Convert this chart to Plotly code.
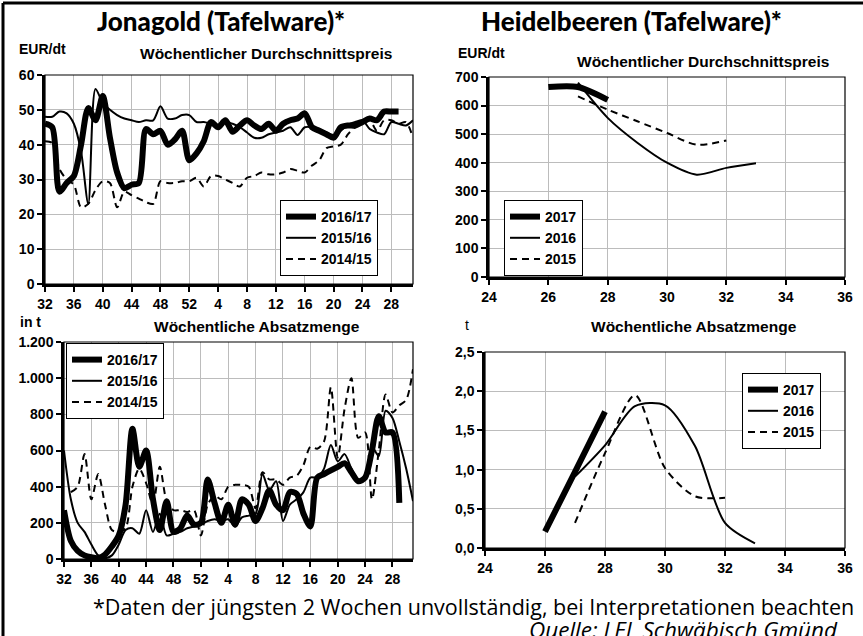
import plotly.graph_objects as go

# ---------------- data ----------------
jg_weeks = [str(w) for w in list(range(32, 53)) + list(range(1, 32))]
jg_ticks = ["32", "36", "40", "44", "48", "52", "4", "8", "12", "16", "20", "24", "28"]

price_1617 = [46, 45, 26.5, 29, 31, 40, 50.5, 47, 54, 42, 32, 27.5, 28.5, 29, 44.5, 43, 44, 40, 41.5, 44,
              35.5, 37.5, 41, 46.5, 45, 47, 43.7, 45.5, 47, 45.5, 44.5, 46, 44, 46, 47, 47.5, 49, 45, 44, 43,
              42, 45, 45.5, 45.5, 46.5, 47.5, 47, 49.5, 49.5, 49.5, None, None]
price_1516 = [48, 48, 49.5, 49, 46, 38, 23, 56, 52, 50, 48.5, 47.5, 47, 46.5, 47, 47, 51, 47.5, 47.5, 48.5,
              48.5, 46.5, 46.5, 46, 45.5, 46.5, 46, 45, 43.5, 42, 42, 43, 43.5, 44, 45, 42.8, 45, 45, 44.5, 43.5,
              42.8, 44, 45.7, 46.5, 47, 44.5, 43.5, 43, 46.5, 46, 45.5, 47]
price_1415 = [41, 40.5, 33, 30, 28.5, 22, 23, 27, 29.5, 29, 22, 26.5, 25.5, 24.5, 23.5, 23, 29.5, 29, 29, 29.5,
              29.5, 30.5, 28, 31, 31, 30, 29, 28, 30.5, 31, 32, 31.5, 31.5, 32, 33, 32.5, 32, 34, 35.5, 39,
              39.5, 40, 43, 45, 46, 47, 44, 47, 47, 46, 46.5, 42]

sales_1617 = [270, 100, 45, 20, 10, 5, 25, 70, 130, 300, 720, 510, 600, 330, 160, 320, 150, 170, 240, 190,
              200, 440, 310, 200, 300, 190, 330, 300, 210, 280, 380, 300, 270, 370, 360, 250, 180, 450, 470, 490,
              510, 530, 480, 430, 450, 600, 790, 700, 700, 310, None, None]
sales_1516 = [600, 330, 200, 150, 80, 20, 5, 20, 80, 160, 170, 140, 270, 150, 250, 130, 140, 150, 170, 180,
              190, 210, 220, 210, 220, 180, 230, 240, 250, 470, 380, 430, 210, 300, 330, 370, 450, 450, 500, 630,
              540, 580, 500, 440, 450, 620, 570, 820, 780, 650, 500, 320]
sales_1415 = [None, 370, 400, 580, 330, 470, 300, 160, 150, 170, 400, 500, 420, 300, 510, 320, 270, 270, 260, 270,
              130, 300, 350, 330, 400, 410, 410, 400, 280, 480, 440, 440, 410, 450, 460, 520, 620, 610, 650, 950,
              560, 830, 1000, 670, 700, 330, 600, 910, 810, 850, 880, 1050]

hb_weeks_2017 = [26, 27, 28]
hb_weeks_2016 = [27, 28, 29, 30, 31, 32, 33]
hb_weeks_2015 = [27, 28, 29, 30, 31, 32]
hb_price_2017 = [665, 665, 620]
hb_price_2016 = [680, 557, 470, 400, 358, 382, 398]
hb_price_2015 = [632, 586, 545, 504, 463, 478]
hb_sales_2017 = [0.21, 0.97, 1.74]
hb_sales_2016 = [0.91, 1.31, 1.81, 1.82, 1.3, 0.32, 0.06]
hb_sales_2015 = [0.32, 1.21, 1.95, 1.02, 0.66, 0.64]

# ---------------- layout helpers ----------------
W, H = 863, 636
def px(x):
    return x / W
def py(y):
    return (H - y) / H

AX = "Liberation Sans"
TXT = "Lato"
FOOT = "Open Sans"

thick = dict(color="black", width=6)
thin = dict(color="black", width=2)
dashed = dict(color="black", width=2, dash="7px,5px")

fig = go.Figure()

def add3(x1, y1, x2, y2, x3, y3, xa, ya, leg, names):
    for (xx, yy, ln, nm) in [(x1, y1, thick, names[0]), (x2, y2, thin, names[1]), (x3, y3, dashed, names[2])]:
        fig.add_trace(go.Scatter(x=xx, y=yy, mode="lines", name=nm, line=dict(shape="spline", smoothing=0.8, **ln),
                                 xaxis=xa, yaxis=ya, legend=leg, connectgaps=False))

add3(jg_weeks, price_1617, jg_weeks, price_1516, jg_weeks, price_1415, "x", "y", "legend",
     ["2016/17", "2015/16", "2014/15"])
add3(hb_weeks_2017, hb_price_2017, hb_weeks_2016, hb_price_2016, hb_weeks_2015, hb_price_2015, "x2", "y2", "legend2",
     ["2017", "2016", "2015"])
add3(jg_weeks, sales_1617, jg_weeks, sales_1516, jg_weeks, sales_1415, "x3", "y3", "legend3",
     ["2016/17", "2015/16", "2014/15"])
add3(hb_weeks_2017, hb_sales_2017, hb_weeks_2016, hb_sales_2016, hb_weeks_2015, hb_sales_2015, "x4", "y4", "legend4",
     ["2017", "2016", "2015"])

tickfont = dict(family=AX, size=14, color="black", weight="bold")
common = dict(showline=True, linecolor="black", linewidth=2.5, mirror=False, ticks="outside", ticklen=5,
              tickwidth=2, tickcolor="black", showgrid=True, gridcolor="#bcbcbc", gridwidth=1,
              tickfont=tickfont, zeroline=False, fixedrange=True, automargin=False)

doms = {
    "1": ([px(45), px(413)], [py(284), py(75)]),
    "2": ([px(489), px(845)], [py(277), py(77)]),
    "3": ([px(64), px(413)], [py(559), py(342)]),
    "4": ([px(485), px(845)], [py(548), py(352)]),
}

lay = dict(
    width=W, height=H, margin=dict(l=0, r=0, t=0, b=0, pad=0, autoexpand=False),
    paper_bgcolor="white", plot_bgcolor="white",
    separators=",.", showlegend=True,
    xaxis=dict(domain=doms["1"][0], anchor="y", type="category", range=[0, 51], tickmode="array",
               tickvals=jg_ticks, **common),
    yaxis=dict(domain=doms["1"][1], anchor="x", range=[0, 60], dtick=10, **common),
    xaxis2=dict(domain=doms["2"][0], anchor="y2", range=[24, 36], dtick=2, **common),
    yaxis2=dict(domain=doms["2"][1], anchor="x2", range=[0, 700], dtick=100, **common),
    xaxis3=dict(domain=doms["3"][0], anchor="y3", type="category", range=[0, 51], tickmode="array",
                tickvals=jg_ticks, **common),
    yaxis3=dict(domain=doms["3"][1], anchor="x3", range=[0, 1200], dtick=200, tickformat=",d", **common),
    xaxis4=dict(domain=doms["4"][0], anchor="y4", range=[24, 36], dtick=2, **common),
    yaxis4=dict(domain=doms["4"][1], anchor="x4", range=[0, 2.5], dtick=0.5, tickformat=".1f", **common),
)

legfont = dict(family=AX, size=14, color="black", weight="bold")
legbase = dict(bgcolor="white", bordercolor="black", borderwidth=1, font=legfont, xanchor="left", yanchor="top",
               tracegroupgap=0, itemclick=False)
lay["legend"] = dict(x=px(280), y=py(200), **legbase)
lay["legend2"] = dict(x=px(504), y=py(200), **legbase)
lay["legend3"] = dict(x=px(66), y=py(343), **legbase)
lay["legend4"] = dict(x=px(742), y=py(373), **legbase)

fig.update_layout(**lay)

# plot borders (top/right thin)
for xa, ya in [("x", "y"), ("x2", "y2"), ("x3", "y3"), ("x4", "y4")]:
    fig.add_shape(type="rect", xref=f"{xa} domain", yref=f"{ya} domain", x0=0, x1=1, y0=0, y1=1,
                  line=dict(color="black", width=1.2), layer="above")

# outer frame (left and top)
fig.add_shape(type="line", xref="paper", yref="paper", x0=px(3), x1=1, y0=py(3), y1=py(3),
              line=dict(color="black", width=3))
fig.add_shape(type="line", xref="paper", yref="paper", x0=px(3), x1=px(3), y0=0, y1=py(3),
              line=dict(color="black", width=3))

def ann(text, x, y, size, family=AX, weight="bold", xanchor="center", italic=False):
    fig.add_annotation(text=text, x=px(x), y=py(y), xref="paper", yref="paper", showarrow=False,
                       xanchor=xanchor, yanchor="middle",
                       font=dict(family=family, size=size, color="black", weight=weight,
                                 style="italic" if italic else "normal"))

ann("Jonagold (Tafelware)*", 221, 21, 26, family=TXT, weight=900)
ann("Heidelbeeren (Tafelware)*", 631, 21, 26, family=TXT, weight=900)
ann("EUR/dt", 17, 49, 14, xanchor="left")
ann("Wöchentlicher Durchschnittspreis", 266, 53, 15.5)
ann("EUR/dt", 456, 53, 14, xanchor="left")
ann("Wöchentlicher Durchschnittspreis", 703, 61, 15.5)
ann("in t", 18, 322, 14, xanchor="left")
ann("Wöchentliche Absatzmenge", 257, 326, 15.5)
ann("t", 467, 325, 14, weight="normal")
ann("Wöchentliche Absatzmenge", 694, 326, 15.5)
ann("*Daten der jüngsten 2 Wochen unvollständig, bei Interpretationen beachten", 473, 606, 21.5,
    family=FOOT, weight="normal")
ann("Quelle: LEL Schwäbisch Gmünd", 527, 629, 22.5, family=FOOT, weight="normal", xanchor="left", italic=True)

fig.write_html("out.html", config={"displayModeBar": False},
               post_script="document.body.style.margin='0';document.body.style.overflow='hidden';")
